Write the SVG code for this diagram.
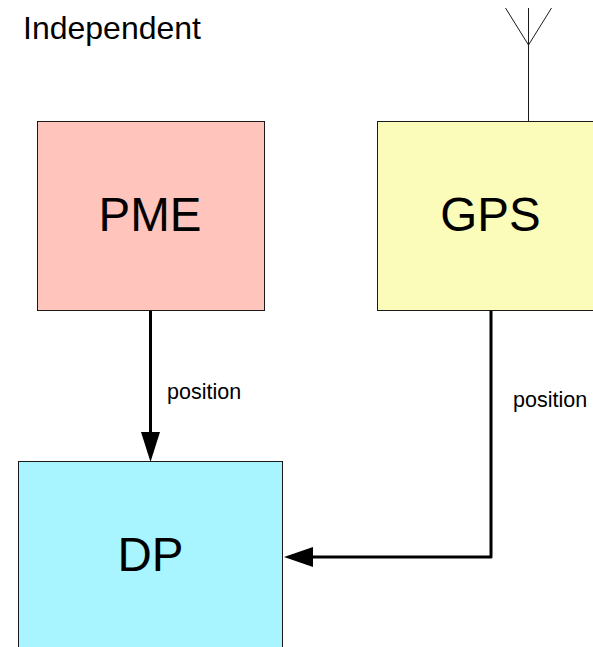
<svg xmlns="http://www.w3.org/2000/svg" width="593" height="647" viewBox="0 0 593 647">
<style>
text{font-family:"Liberation Sans",Arial,sans-serif;fill:#000}
.box{stroke:#1a1a1a;stroke-width:1}
.big{font-size:47.500px;text-anchor:middle}
.lab{font-size:21.500px}
.thick{fill:none;stroke:#000;stroke-width:3;stroke-linejoin:round}
.thin{fill:none;stroke:#1a1a1a;stroke-width:1}
</style>
<rect width="593" height="647" fill="#fff"/>
<text id="title" x="23" y="39" font-size="32">Independent</text>
<g id="connectors">
<path class="thin" d="M528.500 8V122M505.500 8L528.500 45L551.500 8"/>
<path class="thick" d="M150.500 310V433"/>
<polygon points="141,432 160,432 150.500,462"/>
<path class="thick" d="M491 310V557H312"/>
<polygon points="313,547 313,567 284,557"/>
</g>
<g id="PME"><rect class="box" x="37.500" y="121.500" width="227" height="189" fill="#ffc4bc"/><text class="big" x="150" y="231">PME</text></g>
<g id="GPS"><rect class="box" x="377.500" y="121.500" width="227" height="189" fill="#fbfcb9"/><text class="big" x="490.500" y="231">GPS</text></g>
<g id="DP"><rect class="box" x="18.500" y="461.500" width="264" height="200" fill="#a9f5ff"/><text class="big" x="150.500" y="571">DP</text></g>
<text x="167" y="399" class="lab">position</text>
<text x="513" y="407" class="lab">position</text>
</svg>
